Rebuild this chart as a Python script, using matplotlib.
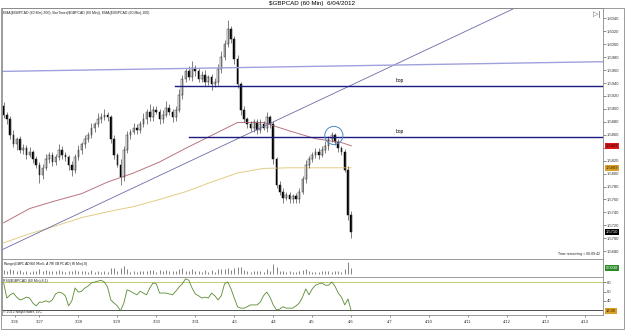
import numpy as np
import matplotlib
matplotlib.use('Agg')
import matplotlib.pyplot as plt

plt.rcParams['font.family'] = ['Liberation Sans', 'DejaVu Sans']

# 2-hour bars, 3/26 .. 4/6 (closes)
closes = [1.5891, 1.5884, 1.5860, 1.5845, 1.5853, 1.5837, 1.5840, 1.5829, 1.5834, 1.5822,
          1.5814, 1.5798, 1.5809, 1.5822, 1.5829, 1.5818, 1.5825, 1.5837, 1.5829, 1.5825,
          1.5814, 1.5806, 1.5825, 1.5837, 1.5845, 1.5853, 1.5860, 1.5871, 1.5876, 1.5884,
          1.5887, 1.5891, 1.5887, 1.5853, 1.5829, 1.5814, 1.5794, 1.5837, 1.5860, 1.5865,
          1.5871, 1.5868, 1.5876, 1.5884, 1.5896, 1.5887, 1.5899, 1.5896, 1.5884, 1.5891,
          1.5902, 1.5896, 1.5887, 1.5899, 1.5922, 1.5946, 1.5958, 1.5949, 1.5964, 1.5958,
          1.5946, 1.5953, 1.5942, 1.5949, 1.5938, 1.5942, 1.5961, 1.5980, 1.6000, 1.6023,
          1.6008, 1.5977, 1.5938, 1.5899, 1.5884, 1.5876, 1.5871, 1.5880, 1.5868, 1.5876,
          1.5871, 1.5887, 1.5876, 1.5822, 1.5783, 1.5772, 1.5763, 1.5767, 1.5760, 1.5766,
          1.5760, 1.5772, 1.5791, 1.5814, 1.5822, 1.5829, 1.5834, 1.5829, 1.5837, 1.5843,
          1.5853, 1.5859, 1.5849, 1.5840, 1.5834, 1.5806, 1.5736, 1.5710]
first_open = 1.5905
# wick lengths in pips
up_wick = [6, 4, 5, 8, 3, 5, 6, 4, 7, 3, 5, 4, 6, 8, 5, 4, 6, 9, 5, 4,
           3, 6, 5, 7, 4, 6, 5, 8, 4, 10, 6, 9, 5, 4, 6, 3, 8, 5, 6, 4,
           7, 5, 6, 9, 4, 12, 6, 5, 4, 8, 10, 5, 4, 6, 9, 7, 5, 8, 10, 4,
           6, 5, 7, 4, 5, 6, 8, 9, 6, 14, 5, 4, 6, 3, 5, 4, 6, 5, 4, 8,
           6, 9, 3, 5, 4, 6, 5, 4, 5, 3, 4, 6, 5, 7, 5, 4, 6, 5, 6, 7,
           5, 6, 4, 5, 3, 4, 6, 6]
lo_wick = [5, 7, 6, 4, 8, 5, 6, 7, 4, 6, 5, 12, 6, 4, 5, 7, 5, 4, 6, 5,
           8, 9, 5, 4, 6, 5, 4, 5, 6, 4, 5, 4, 6, 5, 7, 4, 11, 6, 5, 7,
           4, 6, 5, 4, 7, 5, 6, 4, 8, 5, 4, 6, 7, 5, 4, 6, 5, 4, 6, 7,
           5, 4, 6, 5, 8, 4, 5, 6, 5, 4, 6, 7, 5, 8, 4, 6, 5, 7, 6, 5,
           4, 6, 5, 7, 6, 5, 8, 4, 6, 5, 6, 5, 4, 6, 5, 4, 5, 6, 4, 5,
           6, 4, 5, 6, 5, 4, 7, 9]

ema_bars = [0, 8, 16, 24, 32, 40, 48, 56, 64, 72, 80, 88, 96, 104, 107]
ema100 = [1.5724, 1.5746, 1.5758, 1.5769, 1.5787, 1.5801, 1.5818, 1.5839, 1.5859, 1.5879,
          1.5879, 1.5866, 1.5854, 1.5848, 1.5843]
ema300 = [1.5693, 1.5707, 1.5719, 1.5732, 1.5741, 1.5749, 1.5760, 1.5772, 1.5787, 1.5801,
          1.5808, 1.5809, 1.5809, 1.5809, 1.5809]

rsi = [79, 46, 53, 57, 48, 42, 44, 48, 46, 35, 29, 37, 37, 40, 37, 42, 55, 59, 57, 51,
       29, 40, 68, 59, 61, 68, 72, 79, 81, 83, 85, 81, 70, 42, 35, 29, 18, 35, 64, 61,
       57, 53, 61, 57, 53, 68, 79, 77, 57, 57, 57, 55, 53, 61, 70, 77, 88, 85, 68, 55,
       51, 46, 48, 46, 57, 51, 42, 51, 77, 81, 66, 46, 27, 24, 24, 27, 31, 31, 31, 37,
       51, 59, 48, 31, 20, 22, 27, 24, 24, 24, 29, 35, 48, 66, 53, 66, 74, 77, 79, 74,
       74, 81, 72, 57, 48, 31, 44, 18]

date_hours = [8, 23, 47, 71, 95, 119, 143, 167, 191, 215, 239, 263, 287, 311, 335, 359]
date_labels = ['3/26', '3/27', '3/28', '3/29', '3/30', '3/31', '4/3', '4/4', '4/5',
               '4/6', '4/7', '4/10', '4/11', '4/12', '4/13', '4/14']

# right axis price ticks; 1.5840 sits under the red tag in the original
price_ticks = [1.5680, 1.5700, 1.5720, 1.5740, 1.5760, 1.5780, 1.5800, 1.5820, 1.5840,
               1.5860, 1.5880, 1.5900, 1.5920, 1.5940, 1.5960, 1.5980, 1.6000, 1.6020, 1.6040]
hidden_tick = 1.5840

# drawn objects
bop_levels = [1.5936, 1.5857]
bop_start = [106.5, 115]
long_line = [(0, 1.5958), (370, 1.5973)]
diag_line = [(0.6, 1.5683), (315, 1.6055)]
circle_at = (204.3, 1.5859)
atr_last = 0.0038

W, H = 625, 330


def fx(px):
    return px / W


def fy(py):
    return 1 - py / H


closes = np.array(closes)
n = len(closes)
t = 2 * np.arange(n) + 1
opens = np.r_[first_open, closes[:-1]]
highs = np.maximum(opens, closes) + np.array(up_wick) * 0.0001
lows = np.minimum(opens, closes) - np.array(lo_wick) * 0.0001

fig = plt.figure(figsize=(W / 100, H / 100), dpi=100)
left, right = fx(2), fx(603)
ax = fig.add_axes([left, fy(259), right - left, fy(8) - fy(259)])
axr = fig.add_axes([left, fy(277), right - left, fy(259) - fy(277)], sharex=ax)
axs = fig.add_axes([left, fy(315), right - left, fy(277) - fy(315)], sharex=ax)

for a in (ax, axr, axs):
    for s in a.spines.values():
        s.set_color('#8a8a8a')
        s.set_linewidth(0.6)
    a.yaxis.tick_right()
    a.tick_params(axis='y', labelsize=3, length=2, width=0.4, pad=1, colors='#333333')
    a.tick_params(axis='x', length=0)

# main panel
ax.set_xlim(0, 370)
ax.set_ylim(1.5668, 1.6056)
ax.set_yticks(price_ticks)
ax.set_yticklabels(['' if abs(p - hidden_tick) < 1e-6 else '%.4f' % p for p in price_ticks])
ax.tick_params(axis='x', labelbottom=False)

ax.plot(t[ema_bars], ema300, color='#e2cc84', lw=0.7)
ax.plot(t[ema_bars], ema100, color='#b8747f', lw=0.7)

ax.vlines(t, lows, highs, color='#3a3a3a', lw=0.45)
up = closes >= opens
ax.bar(t[up], (closes - opens)[up], bottom=opens[up], width=1.0,
       color='white', edgecolor='#2a2a2a', lw=0.35)
ax.bar(t[~up], (opens - closes)[~up], bottom=closes[~up], width=1.0,
       color='black', edgecolor='black', lw=0.35)

ax.axline(diag_line[0], diag_line[1], color='#6a6aa8', lw=0.6)
ax.plot([p[0] for p in long_line], [p[1] for p in long_line], color='#a0a0dc', lw=1.0)
for lvl, x0 in zip(bop_levels, bop_start):
    ax.plot([x0, 370], [lvl, lvl], color='#1c1c80', lw=1.0)
    ax.text(245, lvl + 0.0004, 'bop', fontsize=3.5, ha='center', va='bottom', color='black')
ax.scatter([circle_at[0]], [circle_at[1]], s=170, facecolors='none',
           edgecolors='#4a8ac4', lw=0.7, zorder=5)


def tag(a, val, text, fc, tc):
    a.annotate(text, xy=(1, val), xycoords=('axes fraction', 'data'),
               xytext=(2, 0), textcoords='offset points', va='center', ha='left',
               fontsize=3, color=tc, annotation_clip=False,
               bbox=dict(boxstyle='square,pad=0.25', fc=fc, ec='none'))


tag(ax, ema100[-1], '%.4f' % ema100[-1], '#d81818', '#400000')
tag(ax, ema300[-1], '%.4f' % ema300[-1], '#d8a028', '#402800')
tag(ax, closes[-1], '%.4f' % closes[-1], 'black', 'white')

fig.text(fx(312), fy(4), '$GBPCAD (60 Min)  6/04/2012', fontsize=4.5, ha='center', va='center')
fig.text(fx(3), fy(13), 'EMA($GBPCAD (60 Min),300), BarTimer($GBPCAD (60 Min)), EMA($GBPCAD (60 Min),100)',
         fontsize=2.5, ha='left', va='center', color='#222222')
fig.text(fx(597), fy(15), '\u25b7|', fontsize=5, ha='center', va='center', color='#555555')
fig.text(fx(600), fy(254), 'Time remaining = 00:09:42', fontsize=2.5, ha='right', va='center',
         color='#222222')

# range panel
rng = highs - lows
axr.set_ylim(-0.002, 0.010)
axr.set_yticks([])
axr.vlines(t, 0, rng, color='#505050', lw=0.5)
axr.tick_params(axis='x', labelbottom=False)
tag(axr, atr_last, '%.4f' % atr_last, '#2a8a2a', 'white')
fig.text(fx(3), fy(264), 'Range($GBPCAD (60 Min)), ATR($GBPCAD (60 Min),8)', fontsize=2.5,
         ha='left', va='center', color='#222222')

# rsi panel
axs.set_ylim(9, 92)
axs.set_yticks([40, 60, 80])
axs.axhline(80, color='#c0cc70', lw=0.7)
axs.axhline(20, color='#505050', lw=0.7)
axs.plot(t, rsi, color='#5a8a30', lw=0.6)
tag(axs, rsi[-1], '%.2f' % rsi[-1], '#d8a028', '#402800')
axs.set_xticks(date_hours)
axs.set_xticklabels(date_labels)
axs.tick_params(axis='x', labelsize=3, length=1.5, width=0.4, pad=2, colors='#333333')
fig.text(fx(3), fy(281), 'RSI($GBPCAD (60 Min),8,1)', fontsize=2.5, ha='left', va='center',
         color='#222222')
fig.text(fx(3), fy(312), '\u00a9 2012 NinjaTrader, LLC', fontsize=2.5, ha='left', va='center',
         color='#222222')

# outer frame
fig.add_artist(plt.Rectangle((fx(1), fy(329)), fx(623), fy(8) - fy(329), transform=fig.transFigure,
                             fill=False, ec='#8a8a8a', lw=0.6))

fig.savefig('out.png', dpi=100)
